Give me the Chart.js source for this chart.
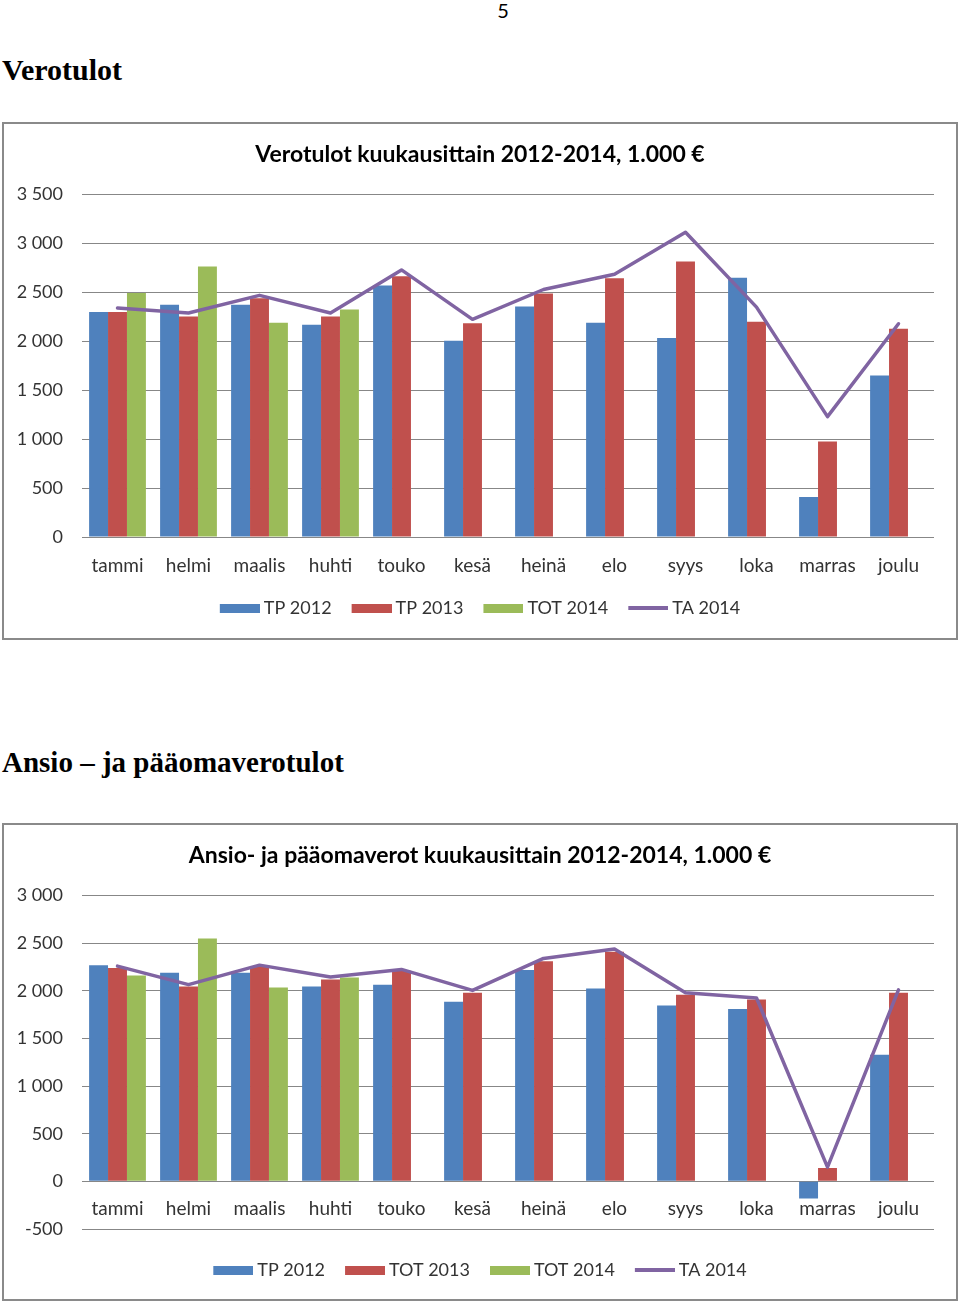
<!DOCTYPE html>
<html>
<head>
<meta charset="utf-8">
<script src="https://cdn.jsdelivr.net/npm/chart.js@4.4.1/dist/chart.umd.min.js"></script>
<style>
html,body{margin:0;padding:0;background:#fff;}
body{width:960px;height:1304px;position:relative;overflow:hidden;}
.pg{position:absolute;left:0;top:0;width:1006px;text-align:center;font:20px/20px Lato,sans-serif;color:#000;}
.h{position:absolute;left:2px;font:bold 29px/29px "Liberation Serif",serif;color:#000;white-space:nowrap;}
.box{position:absolute;left:2px;width:952px;border:2px solid #8a8a8a;background:#fff;}
.box canvas{display:block;}
</style>
</head>
<body>
<div class="pg">5</div>
<div class="h" style="top:55px;font-size:30px">Verotulot</div>
<div class="box" style="top:122px;height:514px"><canvas id="c1" width="952" height="514"></canvas></div>
<div class="h" style="top:748px">Ansio – ja pääomaverotulot</div>
<div class="box" style="top:823px;height:474px"><canvas id="c2" width="952" height="474"></canvas></div>
<script>
// ---- data ----
const months = ['tammi','helmi','maalis','huhti','touko','kesä','heinä','elo','syys','loka','marras','joulu'];

// Chart 1: Verotulot kuukausittain 2012-2014, 1.000 €
const vero_title = 'Verotulot kuukausittain 2012-2014, 1.000 €';
const vero_labels = ['TP 2012','TP 2013','TOT 2014','TA 2014'];
const vero_tp2012  = [2300, 2375, 2375, 2170, 2570, 2005, 2355, 2190, 2035, 2650, 410, 1650];
const vero_tp2013  = [2300, 2255, 2440, 2255, 2665, 2185, 2490, 2645, 2815, 2200, 975, 2130];
const vero_tot2014 = [2495, 2765, 2190, 2325, null, null, null, null, null, null, null, null];
const vero_ta2014  = [2340, 2290, 2470, 2290, 2730, 2225, 2530, 2685, 3115, 2350, 1230, 2180];
const vero_yMin = 0, vero_yMax = 3500;

// Chart 2: Ansio- ja pääomaverot kuukausittain 2012-2014, 1.000 €
const ansio_title = 'Ansio- ja pääomaverot kuukausittain 2012-2014, 1.000 €';
const ansio_labels = ['TP 2012','TOT 2013','TOT 2014','TA 2014'];
const ansio_tp2012  = [2270, 2190, 2190, 2045, 2065, 1885, 2220, 2025, 1845, 1810, -180, 1330];
const ansio_tot2013 = [2240, 2045, 2250, 2120, 2210, 1980, 2310, 2410, 1960, 1910, 140, 1980];
const ansio_tot2014 = [2160, 2550, 2035, 2140, null, null, null, null, null, null, null, null];
const ansio_ta2014  = [2260, 2065, 2270, 2145, 2225, 2005, 2340, 2440, 1980, 1925, 150, 2010];
const ansio_yMin = -500, ansio_yMax = 3000;

const yStep = 500;

// ---- styling ----
const C_BLUE = '#4F81BD', C_RED = '#C0504D', C_GREEN = '#9BBB59', C_PURPLE = '#8064A2';
const FONT = 'Lato';
const TXT = '#333';
const GRID = '#878787';

function fmt(v){
  const s = Math.abs(v).toString().replace(/\B(?=(\d{3})+(?!\d))/g, ' ');
  return (v < 0 ? '-' : '') + s;
}

// legend swatch images: 40px wide, drawn so the text follows closely
function swatch(color, isLine){
  const c = document.createElement('canvas');
  c.width = 45; c.height = isLine ? 4 : 9;
  const g = c.getContext('2d');
  g.fillStyle = color;
  if (isLine) g.fillRect(5, 0, 42, 4);
  else g.fillRect(5, 0, 40, 9);
  return c;
}

function legendLabels(chart){
  const items = Chart.defaults.plugins.legend.labels.generateLabels(chart);
  items.forEach(it => {
    const ds = chart.data.datasets[it.datasetIndex];
    if (ds.type === 'line') {
      it.pointStyle = swatch(ds.borderColor, true);
    } else {
      it.pointStyle = swatch(ds.backgroundColor, false);
    }
    it.lineWidth = 0;
  });
  return items.sort((a,b) => a.datasetIndex - b.datasetIndex);
}

function makeChart(id, title, labels, s1, s2, s3, line, yMin, yMax, negative){
  const datasets = [
    {label: labels[0], data: s1, backgroundColor: C_BLUE, order: 1},
    {label: labels[1], data: s2, backgroundColor: C_RED, order: 1},
    {label: labels[2], data: s3, backgroundColor: C_GREEN, order: 1},
    {type: 'line', label: labels[3], data: line, borderColor: C_PURPLE, backgroundColor: C_PURPLE,
     borderWidth: 3.5, pointRadius: 0, pointHoverRadius: 0, tension: 0,
     borderJoinStyle: 'round', borderCapStyle: 'round', order: 0}
  ];
  const scales = {
    x: {
      grid: {display: false, drawTicks: false},
      border: {display: false},
      ticks: {font: {family: FONT, size: 19}, color: TXT, padding: negative ? 16 : 17,
              maxRotation: 0, autoSkip: false}
    },
    y: {
      min: yMin, max: yMax,
      grid: {color: GRID, lineWidth: 1, drawTicks: false},
      border: {display: false},
      ticks: {stepSize: yStep, font: {family: FONT, size: 18}, color: TXT, padding: 19,
              callback: v => fmt(v)},
      afterFit(s){ s.width = 78; }
    },
    ypad: {
      axis: 'y', type: 'linear', position: 'right', display: true,
      grid: {display: false, drawTicks: false}, border: {display: false},
      ticks: {display: false},
      afterFit(s){ s.width = 22; }
    }
  };
  if (negative) {
    scales.x.position = {y: 0};
    scales.xpad = {
      axis: 'x', type: 'category', position: 'bottom', display: true,
      grid: {display: false, drawTicks: false}, border: {display: false},
      ticks: {display: false},
      afterFit(s){ s.height = 12; }
    };
  } else {
    scales.x.afterFit = function(s){ s.height = 42; };
  }
  return new Chart(document.getElementById(id), {
    type: 'bar',
    data: {labels: months, datasets},
    options: {
      responsive: false,
      animation: false,
      devicePixelRatio: 1,
      datasets: {bar: {categoryPercentage: 0.8, barPercentage: 1.0}},
      layout: {padding: {left: 0, right: 0, top: 0, bottom: negative ? 10 : 11}},
      scales,
      plugins: {
        title: {display: true, text: title, color: '#000',
                font: {family: FONT, size: 23, weight: 'bold'},
                padding: {top: 17, bottom: 26}},
        legend: {position: 'bottom',
                 labels: {usePointStyle: true, pointStyleWidth: 35, boxHeight: 9, padding: 20,
                          font: {family: FONT, size: 18}, color: TXT,
                          generateLabels: legendLabels}},
        tooltip: {enabled: false}
      }
    }
  });
}

makeChart('c1', vero_title, vero_labels, vero_tp2012, vero_tp2013, vero_tot2014, vero_ta2014, vero_yMin, vero_yMax, false);
makeChart('c2', ansio_title, ansio_labels, ansio_tp2012, ansio_tot2013, ansio_tot2014, ansio_ta2014, ansio_yMin, ansio_yMax, true);
</script>
</body>
</html>
